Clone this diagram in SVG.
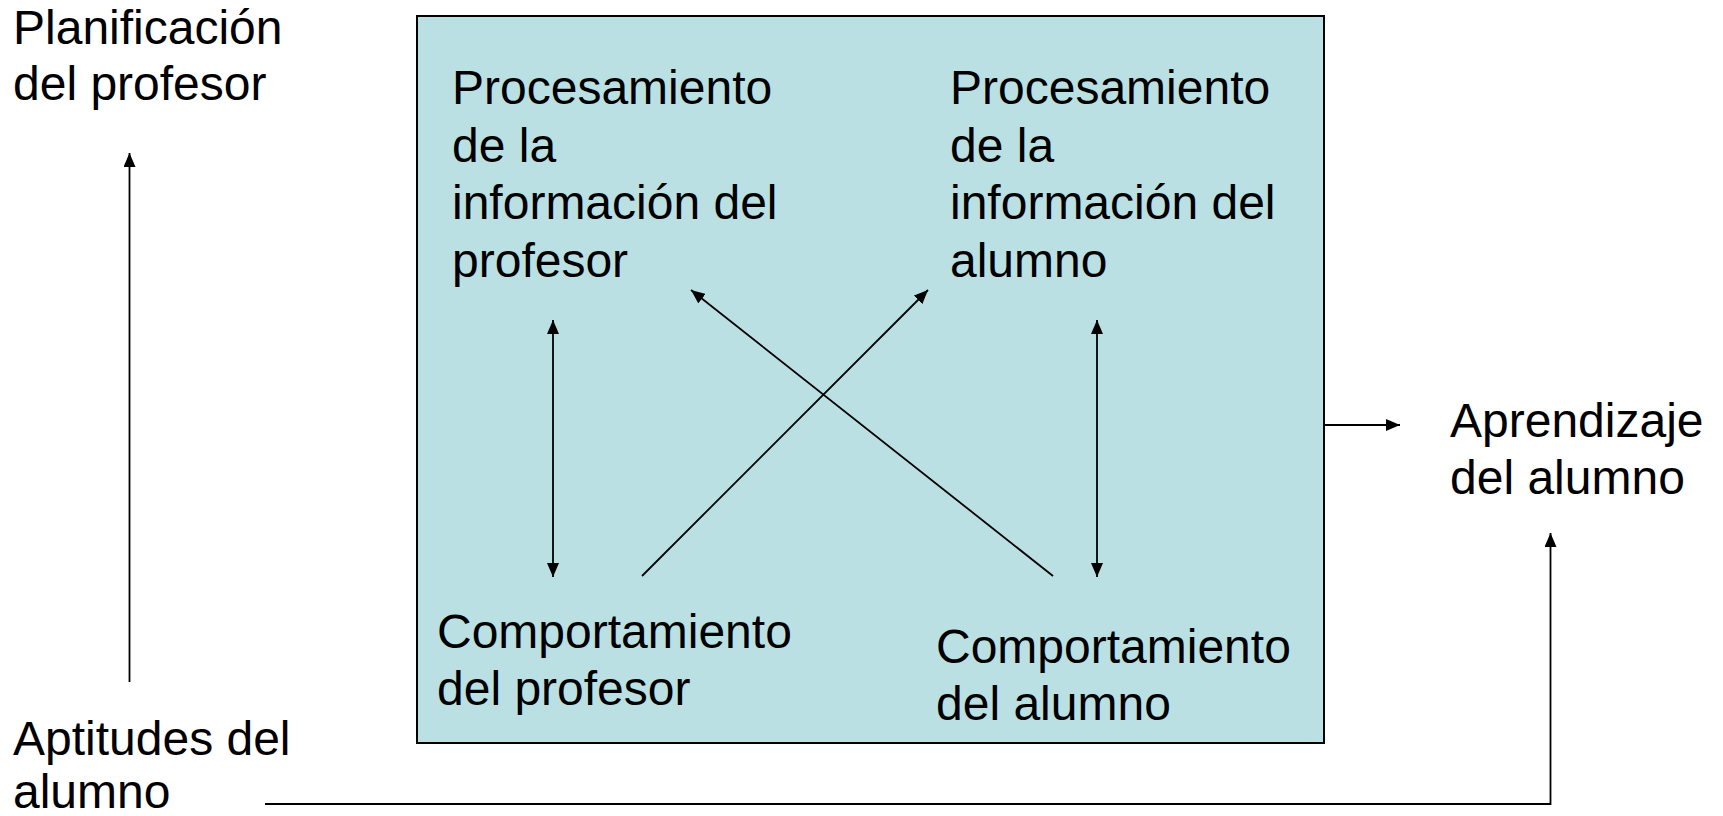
<svg xmlns="http://www.w3.org/2000/svg" width="1723" height="816" viewBox="0 0 1723 816">
<style>
text{font-family:"Liberation Sans",Arial,sans-serif;font-size:48px;fill:#000}
.ln{stroke:#000;stroke-width:1.8;fill:none}
</style>
<defs>
<marker id="ah" markerUnits="userSpaceOnUse" markerWidth="16" markerHeight="12" refX="14" refY="6" orient="auto-start-reverse">
<path d="M0,0 L14,6 L0,12 z" fill="#000"/>
</marker>
</defs>
<rect width="1723" height="816" fill="#fff"/>
<g id="box">
<rect x="417" y="16" width="907" height="727" fill="#BBE0E3" stroke="#000" stroke-width="2"/>
</g>
<g id="planificacion">
<text x="13" y="44">Planificación</text>
<text x="13" y="100">del profesor</text>
</g>
<g id="aptitudes">
<text x="13" y="755">Aptitudes del</text>
<text x="13" y="808">alumno</text>
</g>
<g id="aprendizaje">
<text x="1450" y="437">Aprendizaje</text>
<text x="1450" y="494">del alumno</text>
</g>
<g id="proc-profesor">
<text x="452" y="104">Procesamiento</text>
<text x="452" y="161.5">de la</text>
<text x="452" y="219">información del</text>
<text x="452" y="276.5">profesor</text>
</g>
<g id="proc-alumno">
<text x="950" y="104">Procesamiento</text>
<text x="950" y="161.5">de la</text>
<text x="950" y="219">información del</text>
<text x="950" y="276.5">alumno</text>
</g>
<g id="comp-profesor">
<text x="437" y="648">Comportamiento</text>
<text x="437" y="705">del profesor</text>
</g>
<g id="comp-alumno">
<text x="936" y="663">Comportamiento</text>
<text x="936" y="720">del alumno</text>
</g>
<g id="connectors">
<line class="ln" x1="129.5" y1="682" x2="129.5" y2="153" marker-end="url(#ah)"/>
<line class="ln" x1="553" y1="320" x2="553" y2="577" marker-start="url(#ah)" marker-end="url(#ah)"/>
<line class="ln" x1="1097" y1="320" x2="1097" y2="577" marker-start="url(#ah)" marker-end="url(#ah)"/>
<line class="ln" x1="642" y1="576" x2="928" y2="290" marker-end="url(#ah)"/>
<line class="ln" x1="1053" y1="576" x2="691" y2="290" marker-end="url(#ah)"/>
<line class="ln" x1="1325" y1="425" x2="1400" y2="425" marker-end="url(#ah)"/>
<polyline class="ln" points="265,804 1550.5,804 1550.5,533" marker-end="url(#ah)"/>
</g>
</svg>
